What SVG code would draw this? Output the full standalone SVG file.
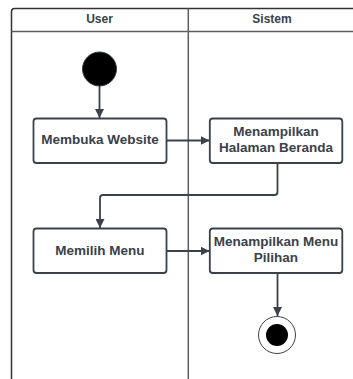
<svg xmlns="http://www.w3.org/2000/svg" width="353" height="379" viewBox="0 0 353 379">
<defs>
<style>
.lane{fill:none;stroke:#5e5e5e;stroke-width:1.5}
.node rect{fill:#fff;stroke:#3a414a;stroke-width:1.8}
.t{font-family:"Liberation Sans",Arial,sans-serif;font-weight:bold;fill:#3a414a;text-anchor:middle}
.nt{font-size:13.5px}
.ht{font-size:12px}
.edge{fill:none;stroke:#3a414a;stroke-width:1.8}
</style>
<marker id="arr" viewBox="0 0 10 10" refX="10" refY="5" markerWidth="5" markerHeight="5" orient="auto" markerUnits="strokeWidth">
<path d="M0,0 L10,5 L0,10 Z" fill="#3a414a"/>
</marker>
</defs>
<g id="pool">
<rect x="0" y="0" width="353" height="379" fill="#fff"/>
<path class="lane" d="M11.5,379 V11.5 Q11.5,8.5 14.5,8.5 H353" style="stroke:#333"/>
<line class="lane" x1="11.5" y1="31.5" x2="353" y2="31.5"/>
<line class="lane" x1="188.3" y1="8.5" x2="188.3" y2="379"/>
<text class="t ht" x="99.5" y="22.5">User</text>
<text class="t ht" x="272" y="22.5">Sistem</text>
</g>
<g id="connectors">
<line class="edge" x1="99.5" y1="86" x2="99.5" y2="118" marker-end="url(#arr)"/>
<line class="edge" x1="166.5" y1="140.5" x2="209.5" y2="140.5" marker-end="url(#arr)"/>
<path class="edge" d="M277.5,163 V192 Q277.5,195 274.5,195 H103 Q100,195 100,198 V228" marker-end="url(#arr)"/>
<line class="edge" x1="166.5" y1="251" x2="209.5" y2="251" marker-end="url(#arr)"/>
<line class="edge" x1="277.5" y1="273" x2="277.5" y2="316" marker-end="url(#arr)"/>
</g>
<g id="start">
<circle cx="99.5" cy="69" r="17" fill="#000" stroke="#3a414a" stroke-width="1"/>
</g>
<g id="node1" class="node">
<rect x="33.5" y="118.5" width="133" height="44.5" rx="3"/>
<text class="t nt" x="100" y="143.5">Membuka Website</text>
</g>
<g id="node2" class="node">
<rect x="209.8" y="118.5" width="132.5" height="44.5" rx="3"/>
<text class="t nt" x="276" y="136">Menampilkan</text>
<text class="t nt" x="276" y="151.5">Halaman Beranda</text>
</g>
<g id="node3" class="node">
<rect x="33.5" y="228.5" width="133" height="44.5" rx="3"/>
<text class="t nt" x="100" y="255">Memilih Menu</text>
</g>
<g id="node4" class="node">
<rect x="209.8" y="228.5" width="132.5" height="44.5" rx="3"/>
<text class="t nt" x="276" y="246">Menampilkan Menu</text>
<text class="t nt" x="276" y="261.5">Pilihan</text>
</g>
<g id="end">
<circle cx="277" cy="335" r="18.5" fill="#fff" stroke="#3a414a" stroke-width="1"/>
<circle cx="277" cy="335" r="11" fill="#000"/>
</g>
</svg>
